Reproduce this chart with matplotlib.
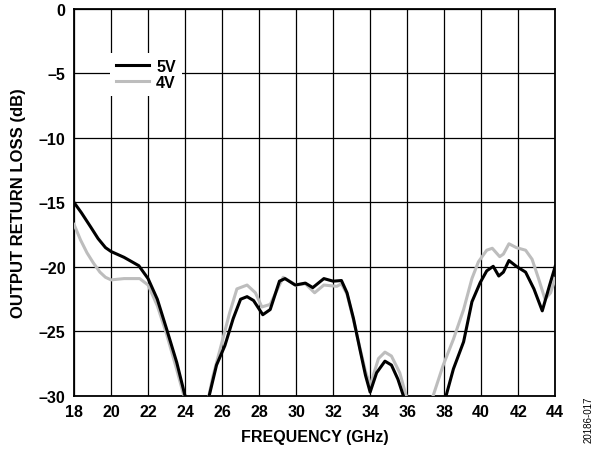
import matplotlib.pyplot as plt

plt.rcParams['font.family'] = ['Liberation Sans', 'DejaVu Sans']

# Datos
freq_5v = [18.0, 18.4, 18.9, 19.3, 19.7, 20.0, 20.7, 21.5, 22.0, 22.5,
           23.0, 23.55, 24.0, 24.6, 25.0, 25.3, 25.7, 26.15, 26.6, 27.0,
           27.35, 27.7, 28.2, 28.6, 29.1, 29.4, 29.95, 30.5, 30.9, 31.5,
           32.0, 32.45, 32.75, 33.1, 33.45, 33.75, 34.0, 34.35, 34.8, 35.15,
           35.5, 35.8, 36.3, 37.5, 38.1, 38.5, 39.05, 39.5, 39.95, 40.3,
           40.65, 40.95, 41.2, 41.5, 41.9, 42.4, 42.85, 43.3, 43.7, 44.0]
rl_5v = [-15.0, -15.8, -16.9, -17.8, -18.5, -18.8, -19.25, -19.9, -20.9, -22.5,
         -24.8, -27.4, -30.0, -32.5, -32.5, -30.0, -27.6, -26.1, -24.0, -22.5,
         -22.3, -22.6, -23.7, -23.3, -21.1, -20.9, -21.4, -21.25, -21.6, -20.9,
         -21.1, -21.05, -22.0, -24.0, -26.4, -28.4, -29.7, -28.2, -27.3, -27.6,
         -28.7, -30.0, -32.0, -32.0, -30.0, -27.9, -25.8, -22.7, -21.2, -20.3,
         -19.95, -20.7, -20.4, -19.5, -19.95, -20.4, -21.7, -23.4, -21.4, -19.95]

freq_4v = [18.0, 18.35, 18.7, 19.05, 19.4, 19.7, 20.0, 20.7, 21.55, 22.0,
           22.5, 23.0, 23.5, 23.9, 24.5, 25.0, 25.5, 26.0, 26.4, 26.8,
           27.35, 27.8, 28.15, 28.6, 29.3, 30.0, 30.5, 31.0, 31.5, 32.2,
           32.45, 32.75, 33.1, 33.45, 33.75, 34.0, 34.45, 34.8, 35.15, 35.6,
           35.95, 36.5, 37.4, 37.95, 38.5, 39.05, 39.5, 39.85, 40.3, 40.6,
           41.0, 41.2, 41.5, 41.9, 42.4, 42.75, 43.1, 43.45, 43.75, 44.0]
rl_4v = [-16.7, -17.9, -18.9, -19.7, -20.4, -20.8, -21.0, -20.9, -20.9, -21.4,
         -23.0, -25.2, -27.7, -29.8, -32.0, -32.0, -28.5, -25.8, -23.6, -21.7,
         -21.4, -22.0, -23.1, -22.9, -20.8, -21.4, -21.3, -22.0, -21.4, -21.5,
         -21.3, -22.1, -24.1, -26.3, -28.1, -29.2, -27.1, -26.6, -26.9, -28.2,
         -30.0, -32.0, -30.0, -27.6, -25.6, -23.3, -20.9, -19.6, -18.7, -18.55,
         -19.2, -19.0, -18.2, -18.5, -18.7, -19.4, -20.9, -22.5, -22.0, -20.9]

x_ticks = list(range(18, 45, 2))
y_ticks = [0, -5, -10, -15, -20, -25, -30]

fig = plt.figure(figsize=(5.97, 4.52), dpi=100)
ax = fig.add_axes([0.124, 0.1217, 0.806, 0.8563])

l4, = ax.plot(freq_4v, rl_4v, color='#bdbdbd', lw=2.2, label='4V', zorder=3)
l5, = ax.plot(freq_5v, rl_5v, color='black', lw=2.2, label='5V', zorder=4)

ax.set_xlim(18, 44)
ax.set_ylim(-30, 0)
ax.set_xticks(x_ticks)
ax.set_yticks(y_ticks)
ax.set_yticklabels([str(v).replace('-', '\u2013') for v in y_ticks])
ax.grid(True, color='black', lw=0.9)
ax.tick_params(length=0, labelsize=11.5)
ax.tick_params(axis='x', pad=6)
ax.tick_params(axis='y', pad=6)
for lab in ax.get_xticklabels() + ax.get_yticklabels():
    lab.set_fontweight('bold')
for sp in ax.spines.values():
    sp.set_linewidth(1.3)

ax.set_xlabel('FREQUENCY (GHz)', fontsize=11.5, fontweight='bold', labelpad=7)
ax.set_ylabel('OUTPUT RETURN LOSS (dB)', fontsize=12, fontweight='bold', labelpad=9)

leg = ax.legend(handles=[l5, l4], loc='upper left', bbox_to_anchor=(0.058, 0.908),
                frameon=True, fancybox=False, framealpha=1, edgecolor='none',
                prop={'weight': 'bold', 'size': 11.5}, handlelength=2.05,
                handletextpad=0.45, labelspacing=0.05, borderpad=0.4)
leg.set_zorder(5)

fig.text(0.986, 0.02, '20186-017', rotation=90, fontsize=7, ha='center', va='bottom')

fig.savefig('out.png', dpi=100)
